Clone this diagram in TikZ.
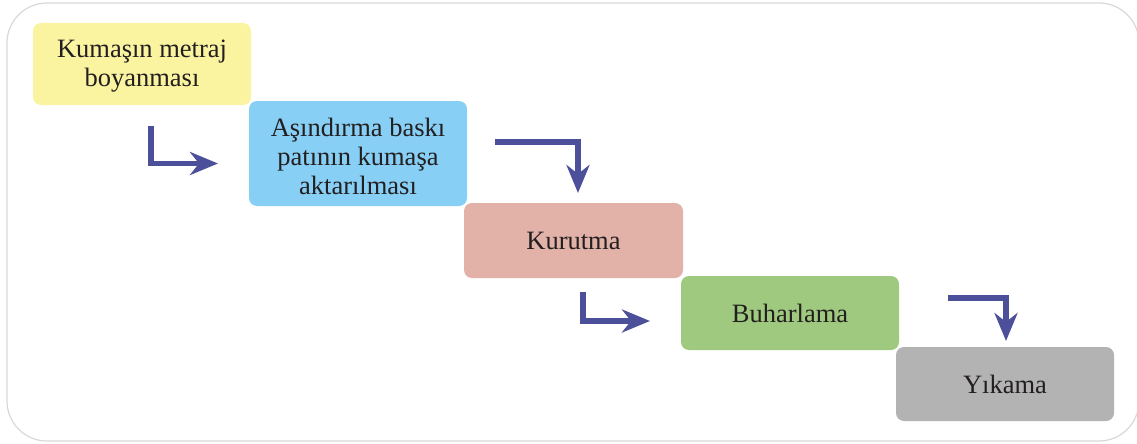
\documentclass[tikz,border=0pt]{standalone}
\usepackage{fontspec}
\setmainfont{Liberation Serif}
\usetikzlibrary{arrows.meta}
\definecolor{cyellow}{RGB}{250,243,160}
\definecolor{cblue}{RGB}{135,207,245}
\definecolor{cpink}{RGB}{226,178,168}
\definecolor{cgreen}{RGB}{159,201,126}
\definecolor{cgray}{RGB}{179,179,179}
\definecolor{carrow}{RGB}{76,80,155}
\definecolor{ctext}{RGB}{35,31,32}
\definecolor{cborder}{RGB}{216,216,216}
\tikzset{
  stepbox/.style={rounded corners=8pt, inner sep=0pt, text=ctext,
    font=\fontsize{26.5}{29}\selectfont, align=center},
  flowarrow/.style={draw=carrow, line width=5.5pt,
    -{Stealth[length=28pt,width=23pt,inset=9pt]}},
}
\begin{document}
\begin{tikzpicture}[x=1pt,y=-1pt]
\useasboundingbox (0,0) rectangle (1137,444);
\clip (0,0) rectangle (1137,444);
\draw[cborder, line width=1.2pt, rounded corners=40pt] (7,3) rectangle (1139,441);
% boxes
\fill[cyellow, rounded corners=8pt] (33,23) rectangle (251,105);
\node[stepbox] (b1) at (142,66) {Kumaşın metraj\\boyanması};
\fill[cblue, rounded corners=8pt] (249,101) rectangle (467,206);
\node[stepbox] (b2) at (358,156) {Aşındırma baskı\\patının kumaşa\\aktarılması};
\fill[cpink, rounded corners=8pt] (464,203) rectangle (683,278);
\node[stepbox] (b3) at (573.5,241) {Kurutma};
\fill[cgreen, rounded corners=8pt] (681,276) rectangle (899,350);
\node[stepbox] (b4) at (790,313.5) {Buharlama};
\fill[cgray, rounded corners=8pt] (896,347) rectangle (1114,421);
\node[stepbox] (b5) at (1005,384.5) {Yıkama};
% arrows
\coordinate (a1s) at (151,126);
\coordinate (a1e) at (218,163.5);
\draw[flowarrow] (a1s) |- (a1e);
\coordinate (a2s) at (495,142);
\coordinate (a2e) at (578,193);
\draw[flowarrow] (a2s) -| (a2e);
\coordinate (a3s) at (583,292);
\coordinate (a3e) at (650,321);
\draw[flowarrow] (a3s) |- (a3e);
\coordinate (a4s) at (948,298);
\coordinate (a4e) at (1006,341);
\draw[flowarrow] (a4s) -| (a4e);
\end{tikzpicture}
\end{document}
